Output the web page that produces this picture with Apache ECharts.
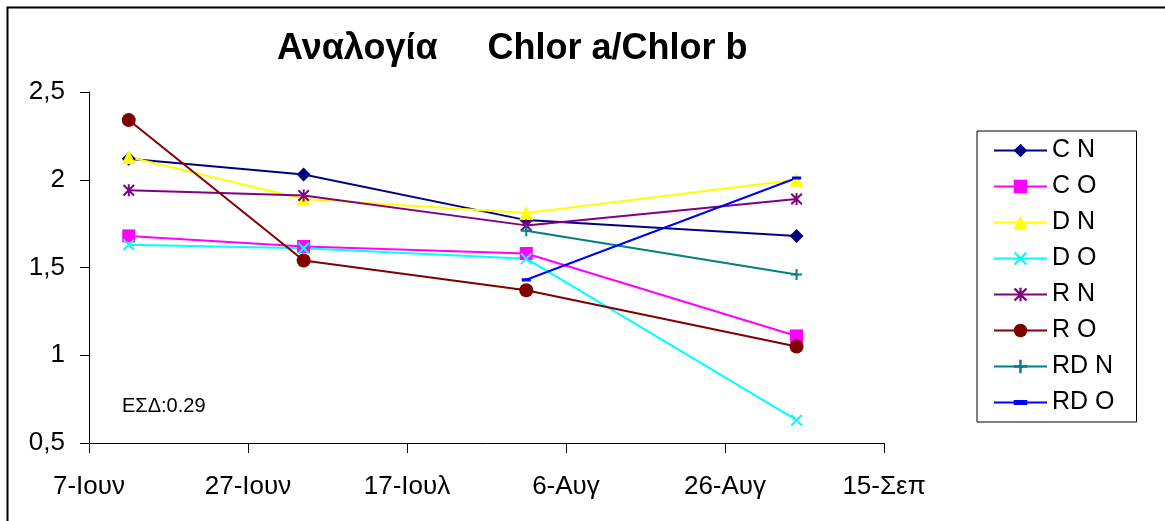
<!DOCTYPE html>
<html>
<head>
<meta charset="utf-8">
<script src="https://cdn.jsdelivr.net/npm/echarts@6/dist/echarts.min.js"></script>
<style>
  html, body { margin: 0; padding: 0; background: #fff; }
  #chart { width: 1165px; height: 521px; }
</style>
</head>
<body>
<div id="chart"></div>
<script>
// sampling dates, axis starts on 7 June (Excel date axis, 20-day steps)
const axisStart = "2000-06-07";
const sampleDates = ["2000-06-12", "2000-07-04", "2000-08-01", "2000-09-04"];
const xTickLabels = ["7-Ιουν", "27-Ιουν", "17-Ιουλ", "6-Αυγ", "26-Αυγ", "15-Σεπ"];
const yTickLabels = ["0,5", "1", "1,5", "2", "2,5"];

const seriesNames = ["C N", "C O", "D N", "D O", "R N", "R O", "RD N", "RD O"];
const cN  = [2.12, 2.03, 1.77, 1.68];
const cO  = [1.68, 1.62, 1.58, 1.11];
const dN  = [2.13, 1.89, 1.81, 2.00];
const dO  = [1.63, 1.61, 1.55, 0.63];
const rN  = [1.94, 1.91, 1.74, 1.89];
const rO  = [2.34, 1.54, 1.37, 1.05];
const rdN = [null, null, 1.71, 1.46];
const rdO = [null, null, 1.43, 2.01];

const noteText = "ΕΣΔ:0.29";

const DAY = 86400000;
const xDays = sampleDates.map((d) => (Date.parse(d) - Date.parse(axisStart)) / DAY);

// marker shapes
const xMark = "path://M0,1.2 L1.2,0 L5,3.8 L8.8,0 L10,1.2 L6.2,5 L10,8.8 L8.8,10 L5,6.2 L1.2,10 L0,8.8 L3.8,5 Z";
const starMark = xMark + " M4.2,0 L5.8,0 L5.8,10 L4.2,10 Z";
const plusMark = "path://M4.1,0 H5.9 V4.1 H10 V5.9 H5.9 V10 H4.1 V5.9 H0 V4.1 H4.1 Z";
const dashMark = "path://M0,0 L0.01,0 M0,3.2 L10,3.2 L10,6.8 L0,6.8 Z M9.99,10 L10,10";

function mk(name, values, color, symbol, size) {
  return {
    name: name,
    type: "line",
    data: values.map((v, i) => [xDays[i], v]),
    symbol: symbol,
    symbolSize: size,
    showAllSymbol: true,
    connectNulls: false,
    lineStyle: { color: color, width: 2 },
    itemStyle: { color: color, borderWidth: 0 },
    emphasis: { disabled: true },
  };
}

const chart = echarts.init(document.getElementById("chart"), null, { renderer: "canvas" });

chart.setOption({
  animation: false,
  backgroundColor: "#ffffff",
  textStyle: { fontFamily: "Liberation Sans, Arial, sans-serif" },
  graphic: [
    {
      type: "rect",
      shape: { x: 7.5, y: 7.5, width: 1200, height: 600 },
      style: { fill: "none", stroke: "#000", lineWidth: 2 },
      silent: true,
    },
    {
      type: "text",
      left: 122,
      top: 396,
      style: { text: noteText, fontSize: 20, fill: "#000", fontFamily: "Liberation Sans, Arial, sans-serif" },
    },
  ],
  title: {
    text: "Αναλογία     Chlor a/Chlor b",
    left: 277,
    top: 31,
    padding: 0,
    textStyle: { fontSize: 36, fontWeight: "bold", color: "#000", fontFamily: "Liberation Sans, Arial, sans-serif" },
  },
  legend: {
    orient: "vertical",
    left: 977,
    top: 131,
    padding: [7, 22, 7, 16],
    borderColor: "#000",
    borderWidth: 1,
    itemWidth: 53,
    itemHeight: 17,
    itemGap: 11,
    data: seriesNames,
    textStyle: { fontSize: 25, lineHeight: 25, color: "#000", fontFamily: "Liberation Sans, Arial, sans-serif" },
  },
  grid: { left: 89, right: 281, top: 92, bottom: 78 },
  xAxis: {
    type: "value",
    min: 0,
    max: 100,
    interval: 20,
    axisLine: { show: true, onZero: false, lineStyle: { color: "#000", width: 1 } },
    axisTick: { show: true, length: 10, lineStyle: { color: "#000" } },
    splitLine: { show: false },
    axisLabel: {
      margin: 31,
      fontSize: 26,
      color: "#000",
      formatter: (v) => xTickLabels[Math.round(v / 20)],
    },
  },
  yAxis: {
    type: "value",
    min: 0.5,
    max: 2.5,
    interval: 0.5,
    axisLine: { show: true, lineStyle: { color: "#000", width: 1 } },
    axisTick: { show: true, length: 9, lineStyle: { color: "#000" } },
    splitLine: { show: false },
    axisLabel: {
      margin: 24,
      fontSize: 26,
      color: "#000",
      formatter: (v) => yTickLabels[Math.round((v - 0.5) / 0.5)],
    },
  },
  series: [
    mk("C N", cN, "#000080", "diamond", 14),
    mk("C O", cO, "#ff00ff", "rect", 13),
    mk("D N", dN, "#ffff00", "triangle", 14),
    mk("D O", dO, "#00ffff", xMark, 12),
    mk("R N", rN, "#800080", starMark, 12),
    mk("R O", rO, "#800000", "circle", 14),
    mk("RD N", rdN, "#008080", plusMark, 11),
    mk("RD O", rdO, "#0000ff", dashMark, 9),
  ],
});
</script>
</body>
</html>
